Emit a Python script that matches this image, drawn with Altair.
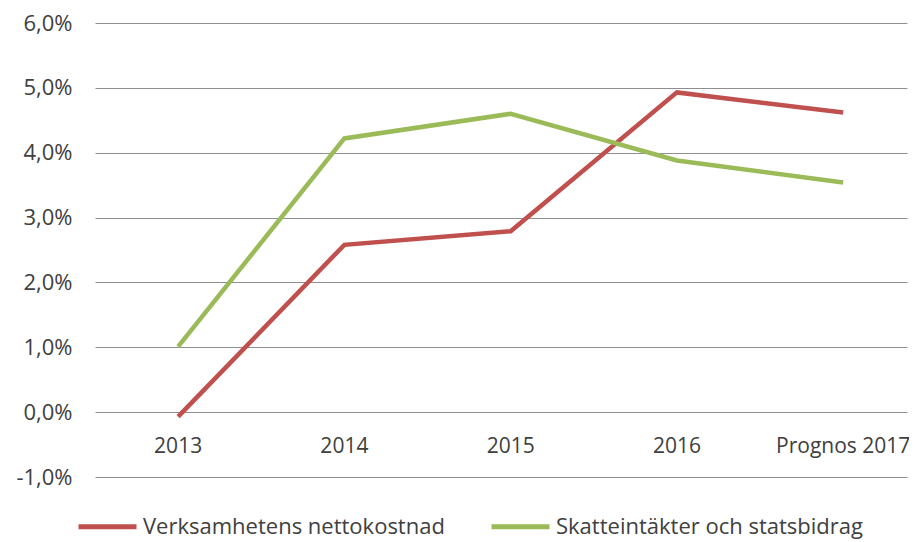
import altair as alt
import pandas as pd

years = ["2013", "2014", "2015", "2016", "Prognos 2017"]
netto = [-0.07, 2.58, 2.79, 4.93, 4.62]
skatt = [1.01, 4.22, 4.60, 3.88, 3.54]
series_names = ["Verksamhetens nettokostnad", "Skatteintäkter och statsbidrag"]
series_colors = ["#C0504D", "#9BBB59"]
y_ticks = [-1, 0, 1, 2, 3, 4, 5, 6]

rows = []
for i, (y, v) in enumerate(zip(years, netto)):
    rows.append({"idx": i, "year": y, "value": v, "series": series_names[0]})
for i, (y, v) in enumerate(zip(years, skatt)):
    rows.append({"idx": i, "year": y, "value": v, "series": series_names[1]})
df = pd.DataFrame(rows)
labels_df = pd.DataFrame({"idx": list(range(len(years))), "year": years, "zero": [0] * len(years)})

FONT = "Open Sans"
TXT = "#404040"

xscale = alt.Scale(domain=[-0.5, 4.384], nice=False, zero=False)
yscale = alt.Scale(domain=[-1, 6], nice=False, zero=False)

label_expr = ("(datum.value < 0 ? '-' : '') + "
              "replace(format(abs(datum.value), '.1f'), '.', ',') + '%'")

lines = alt.Chart(df).mark_line(strokeWidth=4.5).encode(
    x=alt.X("idx:Q", scale=xscale, axis=None),
    y=alt.Y("value:Q", scale=yscale,
            axis=alt.Axis(values=y_ticks, title=None, domain=False, ticks=False,
                          grid=True, gridColor="#8f8f8f", gridWidth=1.2,
                          labelExpr=label_expr,
                          labelFont=FONT, labelFontSize=22, labelColor=TXT,
                          labelPadding=23)),
    color=alt.Color("series:N",
                    scale=alt.Scale(domain=series_names, range=series_colors),
                    legend=alt.Legend(title=None, orient="none", direction="horizontal",
                                      legendX=-19, legendY=472,
                                      symbolType="stroke", symbolSize=3364,
                                      symbolStrokeWidth=5, labelOffset=4,
                                      columnPadding=36, labelLimit=500,
                                      labelFont=FONT, labelFontSize=22, labelColor=TXT)),
)

xlabels = alt.Chart(labels_df).mark_text(dy=35, font=FONT, fontSize=21, color=TXT).encode(
    x=alt.X("idx:Q", scale=xscale, axis=None),
    y=alt.Y("zero:Q", scale=yscale),
    text="year:N",
)

chart = alt.layer(lines, xlabels).properties(
    width=812, height=454,
    autosize=alt.AutoSizeParams(type="none"),
    padding={"left": 87, "top": 15, "right": 2, "bottom": 64},
).configure_view(stroke=None)

chart.save("out.html", embed_options={"renderer": "svg", "actions": False})
